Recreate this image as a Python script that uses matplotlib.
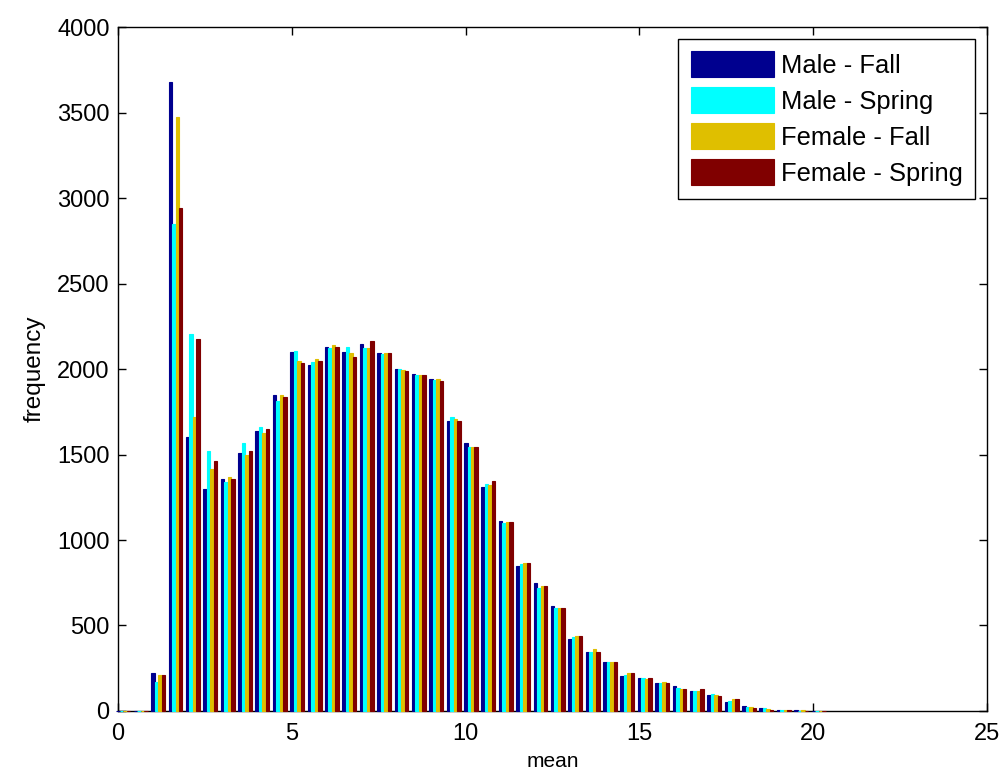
import numpy as np
import matplotlib
matplotlib.use("Agg")
import matplotlib.pyplot as plt

plt.rcParams["font.family"] = ["Liberation Sans", "DejaVu Sans"]

# bin centres of the histogram (41 bins, width 0.5)
bin_centers = np.round(0.155 + 0.5 * np.arange(41), 3)

# counts
male_fall = [0, 0, 220, 3677, 1604, 1298, 1357, 1511, 1639, 1848,
             2098, 2023, 2131, 2098, 2144, 2096, 2000, 1969, 1942, 1696,
             1569, 1310, 1109, 850, 747, 616, 419, 343, 288, 207,
             195, 162, 148, 117, 94, 55, 29, 17, 4, 3, 2]
male_spring = [0, 0, 172, 2846, 2203, 1521, 1341, 1567, 1663, 1815,
               2107, 2043, 2121, 2127, 2125, 2088, 2000, 1963, 1936, 1717,
               1546, 1329, 1097, 860, 721, 600, 431, 347, 288, 211,
               195, 162, 136, 115, 99, 60, 25, 20, 4, 2, 2]
female_fall = [0, 0, 211, 3476, 1721, 1415, 1368, 1497, 1626, 1848,
               2049, 2058, 2140, 2096, 2125, 2096, 1994, 1963, 1940, 1706,
               1546, 1321, 1107, 864, 733, 604, 441, 361, 288, 220,
               185, 172, 127, 115, 94, 68, 25, 10, 4, 3, 2]
female_spring = [0, 0, 211, 2940, 2178, 1463, 1357, 1520, 1651, 1838,
                 2037, 2049, 2131, 2072, 2166, 2096, 1988, 1963, 1930, 1696,
                 1546, 1345, 1107, 864, 733, 604, 441, 347, 288, 220,
                 195, 162, 127, 127, 90, 68, 20, 8, 3, 2, 2]

series = [male_fall, male_spring, female_fall, female_spring]
labels = ["Male - Fall", "Male - Spring", "Female - Fall", "Female - Spring"]
colors = ["#00008F", "#00FFFF", "#DFBF00", "#800000"]

fig = plt.figure(figsize=(10.01, 7.79), dpi=100)
ax = fig.add_axes([0.1179, 0.0873, 0.8681, 0.878])

bar_w = 0.1
offsets = np.array([-1.5, -0.5, 0.5, 1.5]) * bar_w
for vals, lab, col, off in zip(series, labels, colors, offsets):
    ax.bar(bin_centers + off, vals, width=bar_w, color=col, edgecolor=col,
           linewidth=0.8, label=lab, zorder=3, clip_on=False)

ax.set_xlim(0, 25)
ax.set_ylim(0, 4000)
ax.set_xticks(np.arange(0, 26, 5))
ax.set_yticks(np.arange(0, 4001, 500))
ax.tick_params(direction="in", length=6, width=1, labelsize=17,
               top=True, right=True)
ax.tick_params(axis="y", pad=6)
ax.tick_params(axis="x", pad=9)
for s in ax.spines.values():
    s.set_linewidth(1)
    s.set_color("black")

ax.set_xlabel("mean", fontsize=15, labelpad=5)
ax.set_ylabel("frequency", fontsize=17.5, labelpad=8)

leg = ax.legend(loc="upper right", fontsize=18.4, fancybox=False, shadow=False,
                handlelength=3.25, handleheight=1.18, handletextpad=0.27,
                labelspacing=0.37, borderpad=0.5, borderaxespad=0.45,
                framealpha=1)
leg.get_frame().set_edgecolor("black")
leg.get_frame().set_linewidth(1)

fig.savefig("out.png", dpi=100)
